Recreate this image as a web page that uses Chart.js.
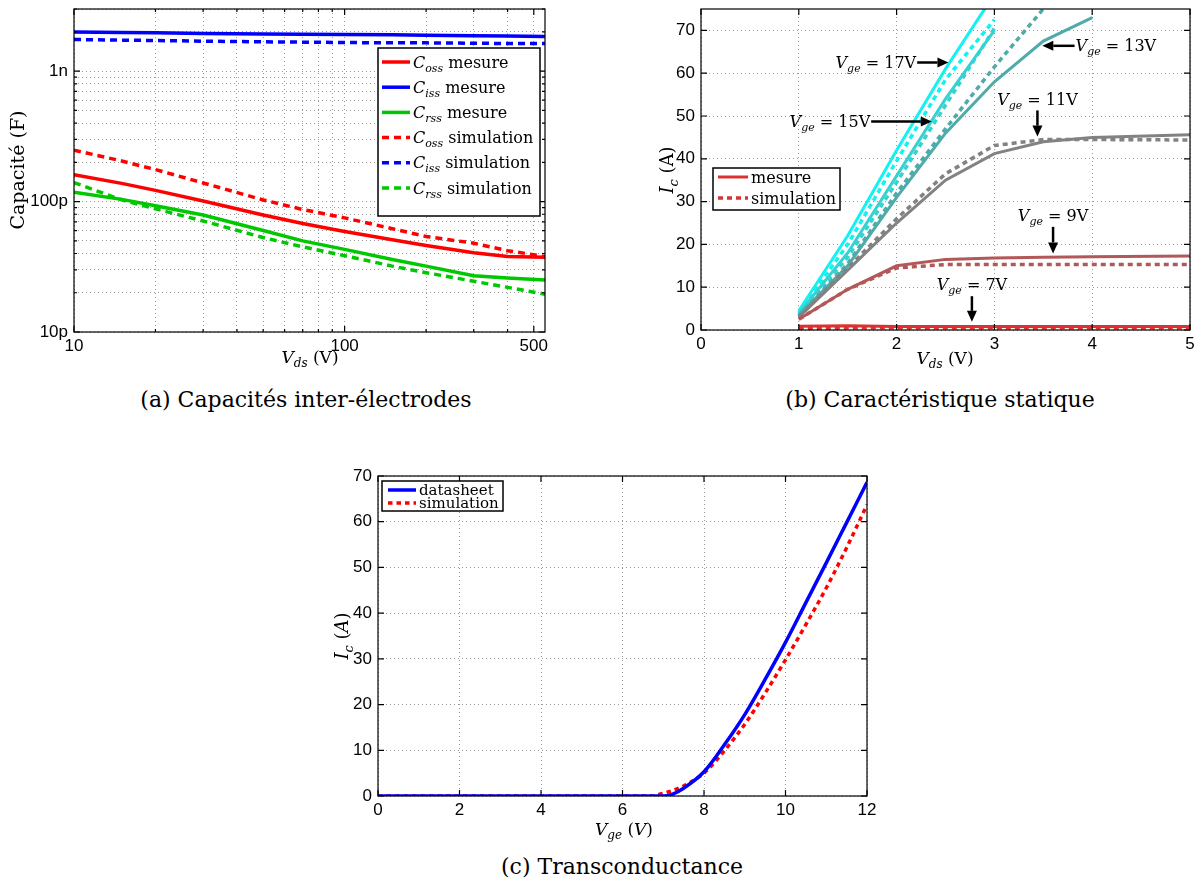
<!DOCTYPE html>
<html>
<head>
<meta charset="utf-8">
<script src="https://cdn.jsdelivr.net/npm/chart.js@4.4.1/dist/chart.umd.min.js"></script>
<style>
  body { margin: 0; background: #fff; width: 1195px; height: 882px; position: relative; overflow: hidden; }
  .box { position: absolute; }
  .cap { position: absolute; font-family: 'DejaVu Serif', serif; font-size: 22px; color: #000;
         white-space: nowrap; transform: translate(-50%, -50%); }
</style>
</head>
<body>
<div class="box" style="left:0;top:0;width:560px;height:380px"><canvas id="capa"></canvas></div>
<div class="box" style="left:600px;top:0;width:595px;height:380px"><canvas id="stat"></canvas></div>
<div class="box" style="left:300px;top:440px;width:600px;height:410px"><canvas id="trans"></canvas></div>
<div class="cap" style="left:306px;top:399px">(a) Capacités inter-électrodes</div>
<div class="cap" style="left:940px;top:399px">(b) Caractéristique statique</div>
<div class="cap" style="left:622px;top:866px">(c) Transconductance</div>

<script>
// ---------- (a) capacités, in pF ----------
const VDS_CAP  = [10, 15, 20, 30, 50, 70, 100, 150, 200, 300, 400, 550];
const COSS_MES = [161, 138, 122, 101, 79, 68, 59, 51, 46, 40.5, 38, 37.5];
const CISS_MES = [2000, 1980, 1970, 1950, 1930, 1920, 1910, 1900, 1890, 1870, 1860, 1850];
const CRSS_MES = [118, 104, 93, 79, 60, 50, 43, 36, 32, 27, 26, 25];
const COSS_SIM = [248, 205, 176, 139, 103, 87, 75, 62, 54, 48, 42, 38];
const CISS_SIM = [1750, 1730, 1720, 1700, 1680, 1670, 1660, 1650, 1650, 1640, 1630, 1630];
const CRSS_SIM = [140, 103, 88, 71, 53, 45, 38.5, 32, 28.5, 24.5, 22, 19.5];
const CAP_X_TICKS = [10, 20, 30, 40, 50, 60, 70, 80, 90, 100, 200, 300, 400, 500];
const CAP_Y_TICKS = [10, 20, 30, 40, 50, 60, 70, 80, 90, 100, 200, 300, 400, 500, 600, 700, 800, 900, 1000, 2000, 3000];
const CAP_X_NAMES = {10: '10', 100: '100', 500: '500'};
const CAP_Y_NAMES = {10: '10p', 100: '100p', 1000: '1n'};

// ---------- (b) caractéristique statique ----------
const VDS_STAT = [1, 1.5, 2, 2.5, 3, 3.5, 4, 5];
const VGE_LEVELS = [7, 9, 11, 13, 15, 17];
const IC_MES = [
  [0.9, 1.0, 0.8, 0.8, 0.8, 0.8, 0.8, 0.8],
  [2.5, 9.5, 15, 16.5, 16.8, 17, 17.1, 17.3],
  [3, 14, 25, 35, 41.2, 44, 45, 45.6],
  [3.5, 15, 31, 46, 58, 67.5, 73, null],
  [3.9, 18, 36, 54, 70, null, null, null],
  [4.5, 22, 42, 61, 78.5, null, null, null]
];
const IC_SIM = [
  [0.4, 0.5, 0.5, 0.5, 0.5, 0.5, 0.5, 0.5],
  [2.5, 9.5, 14.5, 15.3, 15.3, 15.3, 15.3, 15.3],
  [3, 14.5, 26, 36.5, 43.1, 44.5, 44.5, 44.4],
  [3.3, 15.5, 32, 47, 61.5, 75, null, null],
  [3.6, 17, 34.5, 52.5, 70.5, null, null, null],
  [4, 20, 39.5, 58.5, 72.5, null, null, null]
];
const STAT_X_TICKS = [0, 1, 2, 3, 4, 5];
const STAT_Y_TICKS = [0, 10, 20, 30, 40, 50, 60, 70];
const STAT_COLORS = ['#da3232', '#b25858', '#828282', '#4faaaa', '#36d2d2', '#12f2f2'];

// ---------- (c) transconductance ----------
const VGE_TR = [0, 2, 4, 6, 6.7, 7, 7.2, 7.5, 8, 8.5, 9, 9.5, 10, 10.5, 11, 11.5, 12];
const IC_DATASHEET = [0, 0, 0, 0, 0, 0, 0.3, 1.7, 5.3, 11.2, 17.8, 25.5, 33.6, 42.3, 51, 59.8, 68.6];
const IC_SIMUL     = [0, 0, 0, 0, 0, 0.6, 1.1, 2.2, 5, 9.9, 15.7, 22.5, 29.8, 37.5, 45.5, 54.3, 63.7];
const TR_X_TICKS = [0, 2, 4, 6, 8, 10, 12];
const TR_Y_TICKS = [0, 10, 20, 30, 40, 50, 60, 70];

const SERIF = "'DejaVu Serif', serif";
Chart.defaults.font.family = "'Liberation Sans', Arial, sans-serif";
Chart.defaults.font.size = 17;
Chart.defaults.color = '#000';

const pts = (xs, ys) => xs.map((x, i) => ({x: x, y: ys[i]}));

// text with italic / subscript pieces: [text, 'r'|'i'|'s']
function rich(ctx, parts, x, y, size, align, rot) {
  ctx.save();
  ctx.translate(x, y);
  if (rot) ctx.rotate(rot);
  const fonts = parts.map(p => (p[1] === 'r' ? '' : 'italic ') + (p[1] === 's' ? Math.round(size * 0.7) : size) + 'px ' + SERIF);
  let w = 0;
  const ws = parts.map((p, i) => { ctx.font = fonts[i]; const m = ctx.measureText(p[0]).width; w += m; return m; });
  let cx = align === 'center' ? -w / 2 : (align === 'right' ? -w : 0);
  ctx.fillStyle = '#000';
  ctx.textBaseline = 'alphabetic';
  parts.forEach((p, i) => {
    ctx.font = fonts[i];
    ctx.fillText(p[0], cx, size * 0.35 + (p[1] === 's' ? size * 0.25 : 0));
    cx += ws[i];
  });
  ctx.restore();
}

function arrow(ctx, x1, y1, x2, y2) {
  const a = Math.atan2(y2 - y1, x2 - x1), hl = 11, hw = 5;
  const bx = x2 - hl * Math.cos(a), by = y2 - hl * Math.sin(a);
  ctx.strokeStyle = '#000'; ctx.fillStyle = '#000'; ctx.lineWidth = 2.5;
  ctx.beginPath(); ctx.moveTo(x1, y1); ctx.lineTo(bx, by); ctx.stroke();
  ctx.beginPath(); ctx.moveTo(x2, y2);
  ctx.lineTo(bx - hw * Math.sin(a), by + hw * Math.cos(a));
  ctx.lineTo(bx + hw * Math.sin(a), by - hw * Math.cos(a));
  ctx.closePath(); ctx.fill();
}

function drawLegend(ctx, L) {
  ctx.save();
  ctx.fillStyle = '#fff'; ctx.fillRect(L.x, L.y, L.w, L.h);
  ctx.strokeStyle = '#000'; ctx.lineWidth = 1.5; ctx.strokeRect(L.x, L.y, L.w, L.h);
  L.items.forEach((it, i) => {
    const y = L.row0 + i * L.step;
    ctx.beginPath();
    ctx.strokeStyle = it.color; ctx.lineWidth = it.width; ctx.setLineDash(it.dash || []);
    ctx.moveTo(L.s0, y); ctx.lineTo(L.s1, y); ctx.stroke();
    ctx.setLineDash([]);
    rich(ctx, it.parts, L.tx, y, L.size, 'left', 0);
  });
  ctx.restore();
}

function decor(cfg) {
  return {
    id: 'decor',
    afterDraw(chart) {
      const ctx = chart.ctx, a = chart.chartArea;
      ctx.save();
      ctx.strokeStyle = '#000'; ctx.lineWidth = 1.2;
      ctx.strokeRect(a.left, a.top, a.right - a.left, a.bottom - a.top);
      ['x', 'y'].forEach(id => {
        const s = chart.scales[id];
        s.ticks.forEach(t => {
          const len = cfg.major(id, t.value) ? 6 : 3;
          const p = s.getPixelForValue(t.value);
          ctx.beginPath();
          if (id === 'x') { ctx.moveTo(p, a.bottom); ctx.lineTo(p, a.bottom - len); ctx.moveTo(p, a.top); ctx.lineTo(p, a.top + len); }
          else { ctx.moveTo(a.left, p); ctx.lineTo(a.left + len, p); ctx.moveTo(a.right, p); ctx.lineTo(a.right - len, p); }
          ctx.stroke();
        });
      });
      ctx.restore();
      cfg.titles.forEach(t => rich(ctx, t.parts, t.x, t.y, t.size, 'center', t.rot || 0));
      if (cfg.notes) {
        const sx = chart.scales.x, sy = chart.scales.y;
        cfg.notes.forEach(n => {
          rich(ctx, n.parts, sx.getPixelForValue(n.tx), sy.getPixelForValue(n.ty), 16, n.align, 0);
          arrow(ctx, sx.getPixelForValue(n.arrow[0]), sy.getPixelForValue(n.arrow[1]),
                     sx.getPixelForValue(n.arrow[2]), sy.getPixelForValue(n.arrow[3]));
        });
      }
      if (cfg.legend) {
        const L = Object.assign({}, cfg.legend);
        if (!L.items) L.items = chart.data.datasets.map(d => ({color: d.borderColor, width: d.borderWidth, dash: d.borderDash, parts: d.rich}));
        drawLegend(ctx, L);
      }
    }
  };
}

function axis(type, min, max, list, names, size, isX) {
  return {
    type: type, min: min, max: max,
    afterBuildTicks: s => { s.ticks = list.map(v => ({value: v})); },
    afterFit: s => {
      if (isX) s.height = size; else s.width = size;
      s.paddingLeft = 0; s.paddingRight = 0; s.paddingTop = 0; s.paddingBottom = 0;
    },
    ticks: {
      autoSkip: false, maxRotation: 0, minRotation: 0, padding: isX ? 4 : 6, color: '#000',
      font: {size: 17},
      callback: v => names ? (names[v] || '') : String(v)
    },
    grid: { color: '#9a9a9a', lineWidth: 1, drawTicks: false },
    border: { display: false, dash: [1, 3] }
  };
}

function baseOptions(xs, ys, pad) {
  return {
    responsive: true, maintainAspectRatio: false, animation: false,
    layout: { padding: pad },
    plugins: { legend: { display: false }, tooltip: { enabled: false } },
    elements: { point: { radius: 0 }, line: { tension: 0, borderCapStyle: 'butt' } },
    scales: { x: xs, y: ys }
  };
}

// ---------- chart (a) ----------
const C = (sub) => [['C', 'i'], [sub, 's']];
const capSeries = [
  {rich: C('oss').concat([[' mesure', 'r']]), data: COSS_MES, color: '#ff0000', dash: []},
  {rich: C('iss').concat([[' mesure', 'r']]), data: CISS_MES, color: '#0000ff', dash: []},
  {rich: C('rss').concat([[' mesure', 'r']]), data: CRSS_MES, color: '#00c800', dash: []},
  {rich: C('oss').concat([[' simulation', 'r']]), data: COSS_SIM, color: '#ff0000', dash: [7, 5]},
  {rich: C('iss').concat([[' simulation', 'r']]), data: CISS_SIM, color: '#0000ff', dash: [7, 5]},
  {rich: C('rss').concat([[' simulation', 'r']]), data: CRSS_SIM, color: '#00c800', dash: [7, 5]}
];
new Chart(document.getElementById('capa'), {
  type: 'line',
  data: { datasets: capSeries.map(s => ({
    data: pts(VDS_CAP, s.data), borderColor: s.color, borderWidth: 3.5, borderDash: s.dash, rich: s.rich
  })) },
  options: baseOptions(
    axis('logarithmic', 10, 550, CAP_X_TICKS, CAP_X_NAMES, 48, true),
    axis('logarithmic', 10, 3000, CAP_Y_TICKS, CAP_Y_NAMES, 74, false),
    {top: 9, right: 15, left: 0, bottom: 0}),
  plugins: [decor({
    major: (id, v) => (id === 'x' ? CAP_X_NAMES : CAP_Y_NAMES)[v] !== undefined,
    titles: [
      {parts: [['Capacité (F)', 'r']], x: 17, y: 170, size: 19, rot: -Math.PI / 2},
      {parts: [['V', 'i'], ['ds', 's'], [' (V)', 'r']], x: 310, y: 357, size: 17}
    ],
    legend: {x: 378, y: 48, w: 162, h: 168, row0: 62, step: 25.2, s0: 382, s1: 410, tx: 413, size: 16}
  })]
});

// ---------- chart (b) ----------
const statSets = [];
VGE_LEVELS.forEach((v, k) => {
  statSets.push({data: pts(VDS_STAT, IC_MES[k]), borderColor: STAT_COLORS[k], borderWidth: 3, borderDash: []});
  statSets.push({data: pts(VDS_STAT, IC_SIM[k]), borderColor: STAT_COLORS[k], borderWidth: 3.5, borderDash: [5, 4]});
});
const NOTE_POS = [
  {v: 17, tx: 2.2, ty: 62.5, align: 'right', arrow: [2.21, 62.5, 2.53, 62.5]},
  {v: 15, tx: 1.73, ty: 48.7, align: 'right', arrow: [1.74, 48.7, 2.36, 48.7]},
  {v: 13, tx: 3.83, ty: 66.4, align: 'left', arrow: [3.82, 66.4, 3.49, 66.4]},
  {v: 11, tx: 3.44, ty: 53.9, align: 'center', arrow: [3.44, 51.3, 3.44, 45.2]},
  {v: 9, tx: 3.6, ty: 26.7, align: 'center', arrow: [3.6, 24.1, 3.6, 17.9]},
  {v: 7, tx: 2.77, ty: 10.6, align: 'center', arrow: [2.77, 7.9, 2.77, 1.9]}
];
new Chart(document.getElementById('stat'), {
  type: 'line',
  data: { datasets: statSets },
  options: baseOptions(
    axis('linear', 0, 5, STAT_X_TICKS, null, 50, true),
    axis('linear', 0, 75, STAT_Y_TICKS, null, 101, false),
    {top: 9, right: 5, left: 0, bottom: 0}),
  plugins: [decor({
    major: () => true,
    titles: [
      {parts: [['I', 'i'], ['c', 's'], [' (A)', 'r']], x: 67, y: 170, size: 18, rot: -Math.PI / 2},
      {parts: [['V', 'i'], ['ds', 's'], [' (V)', 'r']], x: 345, y: 358, size: 17}
    ],
    notes: NOTE_POS.map(n => Object.assign({parts: [['V', 'i'], ['ge', 's'], [' = ' + n.v + 'V', 'r']]}, n)),
    legend: {x: 113, y: 168, w: 127, h: 42, row0: 177, step: 21, s0: 118, s1: 148, tx: 151, size: 16,
      items: [
        {color: STAT_COLORS[0], width: 3, dash: [], parts: [['mesure', 'r']]},
        {color: STAT_COLORS[0], width: 3.5, dash: [5, 4], parts: [['simulation', 'r']]}
      ]}
  })]
});

// ---------- chart (c) ----------
new Chart(document.getElementById('trans'), {
  type: 'line',
  data: { datasets: [
    {data: pts(VGE_TR, IC_DATASHEET), borderColor: '#0000ff', borderWidth: 3.5, borderDash: [],
     cubicInterpolationMode: 'monotone', rich: [['datasheet', 'r']]},
    {data: pts(VGE_TR, IC_SIMUL), borderColor: '#ff0000', borderWidth: 3.5, borderDash: [4.5, 4],
     cubicInterpolationMode: 'monotone', rich: [['simulation', 'r']]}
  ] },
  options: baseOptions(
    axis('linear', 0, 12, TR_X_TICKS, null, 54, true),
    axis('linear', 0, 70, TR_Y_TICKS, null, 78, false),
    {top: 36, right: 33, left: 0, bottom: 0}),
  plugins: [decor({
    major: () => true,
    titles: [
      {parts: [['I', 'i'], ['c', 's'], [' (', 'r'], ['A', 'i'], [')', 'r']], x: 42, y: 196, size: 18, rot: -Math.PI / 2},
      {parts: [['V', 'i'], ['ge', 's'], [' (', 'r'], ['V', 'i'], [')', 'r']], x: 324, y: 389, size: 17}
    ],
    legend: {x: 82, y: 41, w: 121, h: 30, row0: 50, step: 13, s0: 88, s1: 116, tx: 119, size: 15}
  })]
});
</script>
</body>
</html>
